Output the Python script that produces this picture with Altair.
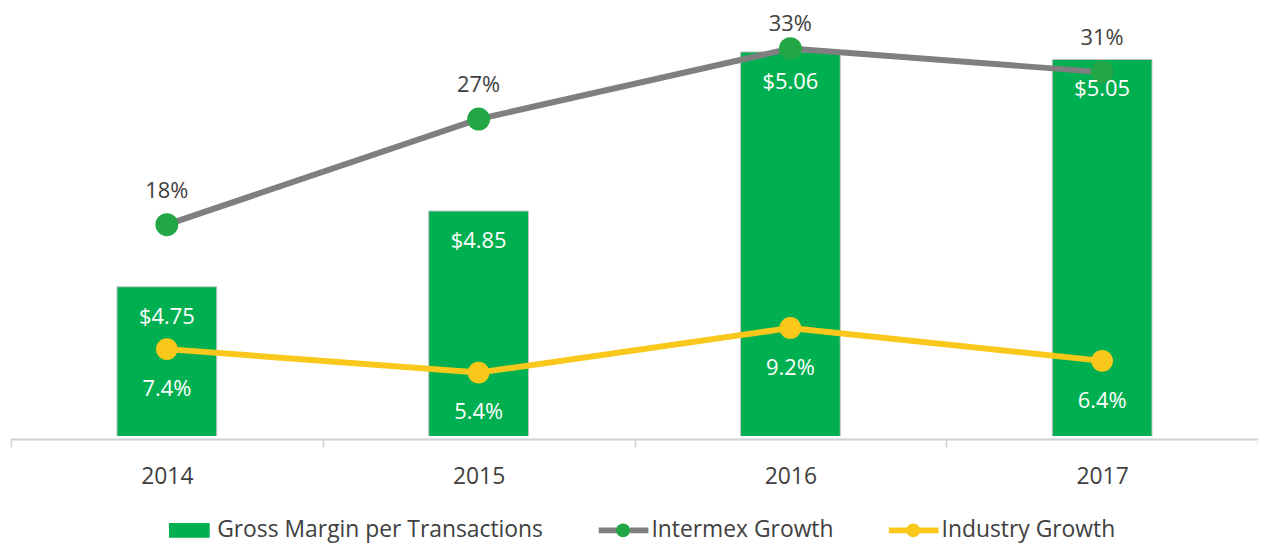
import altair as alt
import pandas as pd

# ---- data ----
years = ["2014", "2015", "2016", "2017"]
gross_margin = [4.75, 4.85, 5.06, 5.05]
intermex_growth = [0.18, 0.27, 0.33, 0.31]
industry_growth = [0.074, 0.054, 0.092, 0.064]
series_names = ["Gross Margin per Transactions", "Intermex Growth", "Industry Growth"]

# ---- styles ----
GREEN = "#00b050"
DOT_GREEN = "#22a646"
GRAY = "#7f7f7f"
YELLOW = "#f9c81a"
TEXT = "#404040"
FONT = "Open Sans"

df = pd.DataFrame({
    "year": years,
    "gm": gross_margin,
    "intermex": intermex_growth,
    "industry": industry_growth,
})
dot_keys = ["B:" + s for s in series_names]
legend_df = pd.DataFrame({"series": series_names, "dot": dot_keys})

x_enc = alt.X(
    "year:N", sort=years,
    scale=alt.Scale(paddingInner=0, paddingOuter=0),
    axis=alt.Axis(title=None, labelAngle=0, labelFont=FONT, labelFontSize=23,
                  labelColor=TEXT, tickBand="extent", tickSize=8, tickColor="#d0d0d0",
                  tickWidth=1.5, domainColor="#d0d0d0", domainWidth=2, offset=3,
                  labelPadding=19),
)

gm_scale = alt.Scale(domain=[4.553, 5.1], zero=False, nice=False)
pct_scale = alt.Scale(domain=[0, 0.353], zero=False, nice=False)

base = alt.Chart(df)

bars = base.mark_bar(color=GREEN, stroke="#c4c4c4", strokeWidth=1, clip=True,
                     width=alt.RelativeBandSize(0.32)).encode(
    x=x_enc, y=alt.Y("gm:Q", scale=gm_scale, axis=None))

bar_text = base.mark_text(dy=30, color="white", font=FONT, fontSize=22,
                          baseline="middle").encode(
    x=x_enc, y=alt.Y("gm:Q", scale=gm_scale, axis=None),
    text=alt.Text("gm:Q", format="$.2f"))

y_int = alt.Y("intermex:Q", scale=pct_scale, axis=None)
y_ind = alt.Y("industry:Q", scale=pct_scale, axis=None)

intermex_line = base.mark_line(color=GRAY, strokeWidth=6).encode(x=x_enc, y=y_int)
industry_line = base.mark_line(color=YELLOW, strokeWidth=6).encode(x=x_enc, y=y_ind)
intermex_pts = base.mark_circle(size=530, color=DOT_GREEN, opacity=1).encode(x=x_enc, y=y_int)
industry_pts = base.mark_circle(size=480, color=YELLOW, opacity=1).encode(x=x_enc, y=y_ind)
# labels above the chart top are kept inside the chart area (as the source does)
intermex_text = base.transform_calculate(
    label_y="min(datum.intermex, 0.322)"
).mark_text(dy=-34, color=TEXT, font=FONT, fontSize=22, baseline="middle").encode(
    x=x_enc, y=alt.Y("label_y:Q", scale=pct_scale, axis=None),
    text=alt.Text("intermex:Q", format=".0%"))
industry_text = base.mark_text(dy=40, color="white", font=FONT, fontSize=22,
                               baseline="middle").encode(
    x=x_enc, y=y_ind, text=alt.Text("industry:Q", format=".1%"))

# ---- legend (built from series names) ----
rect_path = "M-0.82,-0.3L0.82,-0.3L0.82,0.3L-0.82,0.3Z"
gap_line_path = "M-1,-0.12L-0.25,-0.12L-0.25,0.12L-1,0.12Z M0.25,-0.12L1,-0.12L1,0.12L0.25,0.12Z"
line_path = "M-1,-0.12L1,-0.12L1,0.12L-1,0.12Z"
circle_path = "M-0.28,0A0.28,0.28,0,1,1,0.28,0A0.28,0.28,0,1,1,-0.28,0Z"

common = dict(orient="none", legendY=487, direction="horizontal",
              title=None, symbolSize=2500, symbolStrokeWidth=0, symbolOpacity=1,
              labelFont=FONT, labelFontSize=23, labelColor=TEXT, labelOffset=3,
              padding=0, labelLimit=1000)

legA = alt.Chart(legend_df).mark_point(filled=True, opacity=0).encode(
    fill=alt.Fill("series:N", scale=alt.Scale(domain=series_names, range=[GREEN, GRAY, YELLOW]),
                  legend=alt.Legend(legendX=154.5, columnPadding=55, **common)),
    shape=alt.Shape("series:N", scale=alt.Scale(domain=series_names,
                                                range=[rect_path, gap_line_path, line_path]),
                    legend=alt.Legend(legendX=154.5, columnPadding=55, **common)),
)
# marker dots of the legend, drawn over the line symbols (labels left empty)
legB = alt.Chart(legend_df).mark_point(filled=True, opacity=0).encode(
    color=alt.Color("dot:N", scale=alt.Scale(domain=dot_keys,
                                             range=["transparent", DOT_GREEN, YELLOW]),
                    legend=alt.Legend(legendX=299, columnPadding=239, **common,
                                      symbolType=circle_path,
                                      labelExpr="''", zindex=1)),
)

chart = alt.layer(
    bars, intermex_line, industry_line, intermex_pts, industry_pts,
    bar_text, intermex_text, industry_text, legA, legB,
).resolve_scale(y="independent").properties(
    width=1255, height=417,
    padding={"left": 3, "top": 12, "right": 0, "bottom": 107},
    autosize=alt.AutoSizeParams(type="none"),
).configure_view(stroke=None)

chart.save("out.html", embed_options={"renderer": "svg", "actions": False})
